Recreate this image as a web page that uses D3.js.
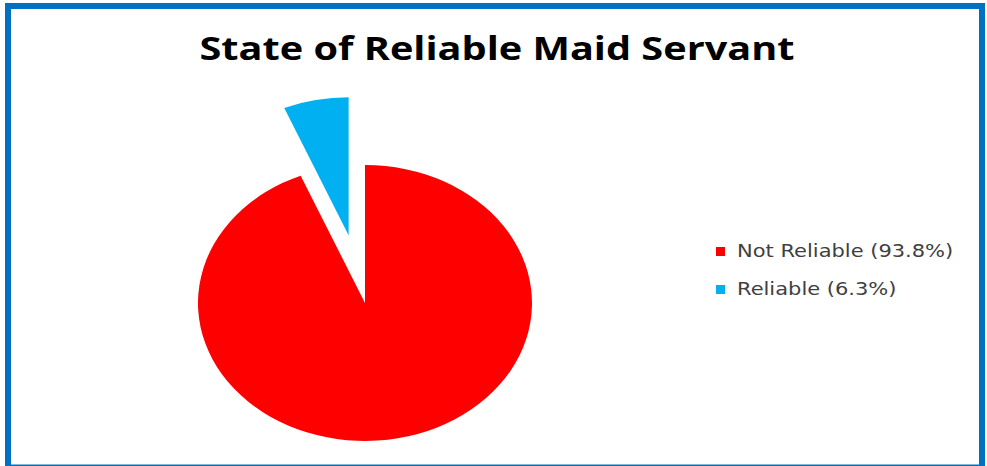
<!DOCTYPE html>
<html>
<head>
<meta charset="utf-8">
<script src="https://cdn.jsdelivr.net/npm/d3@7"></script>
<style>
  body { margin: 0; background: #fff; }
  svg { display: block; }
</style>
</head>
<body>
<div id="chart"></div>
<script>
var categories = ["Not Reliable", "Reliable"];
var shares = [93.8, 6.3];
var legendLabels = ["Not Reliable (93.8%)", "Reliable (6.3%)"];
var colors = ["#FF0000", "#00B0F0"];
var explode = [0, 0.5]; // fraction of radius

var width = 987, height = 466;
// the original picture is stretched sideways
var stretch = 1.2;

var svg = d3.select("#chart")
  .append("svg")
    .attr("width", width)
    .attr("height", height);

// frame (bottom edge is cut off in the original)
svg.append("rect")
    .attr("x", 8)
    .attr("y", 6)
    .attr("width", 974)
    .attr("height", 461.5)
    .attr("fill", "#fff")
    .attr("stroke", "#0070C0")
    .attr("stroke-width", 6);

// title
svg.append("text")
    .attr("x", 497)
    .attr("y", 60)
    .attr("text-anchor", "middle")
    .attr("font-family", "'Open Sans', 'DejaVu Sans', sans-serif")
    .attr("font-weight", "bold")
    .attr("font-size", "33px")
    .attr("fill", "#000")
    .attr("textLength", 595)
    .attr("lengthAdjust", "spacingAndGlyphs")
    .text("State of Reliable Maid Servant");

// pie (stretched to an ellipse like the original)
var R = 100, rx = 167, ry = 138, cx = 365, cy = 303;

var data = categories.map(function(c, i) { return {name: c, value: shares[i], i: i}; });

var pie = d3.pie()
    .sort(null)
    .value(function(d) { return d.value; });

var arc = d3.arc()
    .innerRadius(0)
    .outerRadius(R);

var pieG = svg.append("g")
    .attr("transform", "translate(" + cx + "," + cy + ") scale(" + (rx / R) + "," + (ry / R) + ")");

pieG.selectAll("path")
  .data(pie(data))
  .enter().append("path")
    .attr("d", arc)
    .attr("fill", function(d) { return colors[d.data.i]; })
    .attr("transform", function(d) {
      var a = (d.startAngle + d.endAngle) / 2;
      var k = explode[d.data.i] * R;
      return "translate(" + (Math.sin(a) * k) + "," + (-Math.cos(a) * k) + ")";
    });

// legend
var legend = svg.selectAll(".legend")
  .data(legendLabels)
  .enter().append("g")
    .attr("class", "legend")
    .attr("transform", function(d, i) { return "translate(716," + (247 + i * 38) + ")"; });

legend.append("rect")
    .attr("width", 9)
    .attr("height", 9)
    .attr("fill", function(d, i) { return colors[i]; });

legend.append("text")
    .attr("transform", "translate(21,10) scale(" + stretch + ",1)")
    .attr("font-family", "'DejaVu Sans', sans-serif")
    .attr("font-size", "17.5px")
    .attr("fill", "#404040")
    .text(function(d) { return d; });
</script>
</body>
</html>
